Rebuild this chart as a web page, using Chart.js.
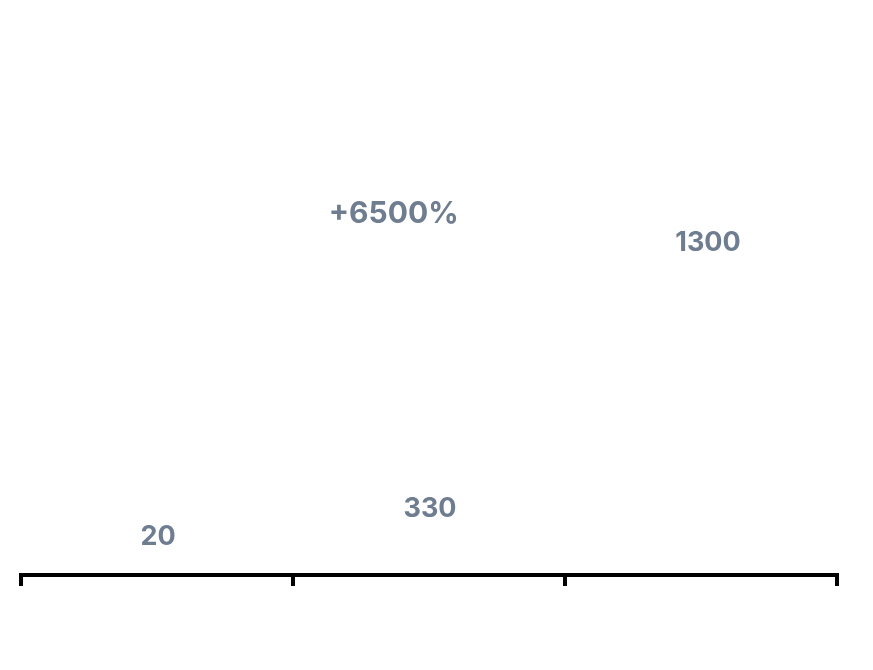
<!DOCTYPE html>
<html>
<head>
<meta charset="utf-8">
<script src="https://cdn.jsdelivr.net/npm/chart.js@4/dist/chart.umd.min.js"></script>
<style>
  html, body { margin: 0; padding: 0; background: #fff; }
  #wrap { width: 873px; height: 670px; position: relative; }
</style>
</head>
<body>
<div id="wrap"><canvas id="growthChart"></canvas></div>
<script>
// категории и значения
const categories = ['A', 'B', 'C'];
const values = [20, 330, 1300];
// высоты столбцов (столбцы не видны, видны только подписи)
const barHeights = [25, 53, 318];
const growthLabel = '+6500%';

const labelColor = '#6f7d90';
const labelFont = '700 27px Inter, "Open Sans", sans-serif';

// подписи над столбцами
const valueLabels = {
    id: 'valueLabels',
    afterDatasetsDraw(chart) {
        const ctx = chart.ctx;
        const meta = chart.getDatasetMeta(0);
        ctx.save();
        ctx.fillStyle = labelColor;
        ctx.font = labelFont;
        ctx.textAlign = 'center';
        ctx.textBaseline = 'bottom';
        meta.data.forEach((bar, i) => {
            ctx.fillText(String(values[i]), bar.x + (i === 2 ? 7 : 1), bar.y);
        });
        // процент роста
        const xs = chart.scales.x;
        const ys = chart.scales.y;
        ctx.font = '700 30px Inter, "Open Sans", sans-serif';
        ctx.fillText(growthLabel, xs.getPixelForValue(0.87), ys.getPixelForValue(barHeights[2] + 30) + 3);
        ctx.restore();
    }
};

const ctx = document.getElementById('growthChart').getContext('2d');
const chart = new Chart(ctx, {
    type: 'bar',
    data: {
        labels: categories,
        datasets: [{
            data: barHeights,
            backgroundColor: 'rgba(0,0,0,0)',
            borderWidth: 0
        }]
    },
    options: {
        responsive: true,
        maintainAspectRatio: false,
        animation: false,
        layout: {
            padding: { left: 21, right: 36, top: 24, bottom: 84 }
        },
        plugins: {
            legend: { display: false },
            tooltip: { enabled: false }
        },
        scales: {
            x: {
                grid: {
                    drawOnChartArea: false,
                    drawTicks: true,
                    tickLength: 11,
                    color: '#000',
                    lineWidth: 4
                },
                border: { display: true, color: '#000', width: 4 },
                ticks: { display: false }
            },
            y: {
                display: false,
                min: 0,
                max: 550
            }
        }
    },
    plugins: [valueLabels]
});
</script>
</body>
</html>
